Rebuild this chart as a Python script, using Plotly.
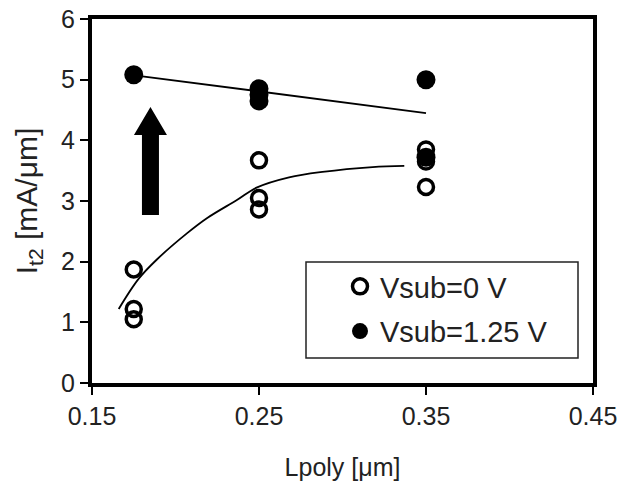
import plotly.graph_objects as go

# ---- data ----
lpoly_open = [0.175, 0.175, 0.175, 0.25, 0.25, 0.25, 0.35, 0.35, 0.35]
it2_open = [1.87, 1.22, 1.05, 3.67, 3.05, 2.86, 3.85, 3.65, 3.23]

lpoly_filled = [0.175, 0.25, 0.25, 0.25, 0.35, 0.35]
it2_filled = [5.08, 4.85, 4.75, 4.65, 5.00, 3.72]

# trend lines
trend_open_x = [0.166, 0.178, 0.189, 0.207, 0.219, 0.237, 0.2485, 0.268, 0.288, 0.318, 0.337]
trend_open_y = [1.22, 1.72, 2.04, 2.47, 2.72, 3.02, 3.22, 3.39, 3.48, 3.56, 3.58]
trend_filled_x = [0.179, 0.35]
trend_filled_y = [5.06, 4.45]

x_ticks = [0.15, 0.25, 0.35, 0.45]
y_ticks = [0, 1, 2, 3, 4, 5, 6]

FONT = "Liberation Sans, Arial, sans-serif"
W, H = 621, 489
PL, PR, PT, PB = 92, 593, 19, 383  # plot area in page pixels
ML, MR, MT, MB = PL, W - PR, PT, H - PB
PW, PH = PR - PL, PB - PT


def px_x(p):
    return (p - PL) / PW


def px_y(q):
    return (PB - q) / PH


fig = go.Figure()

fig.add_trace(go.Scatter(
    x=trend_open_x, y=trend_open_y, mode="lines", line=dict(color="black", width=1.8, shape="spline"),
    showlegend=False, hoverinfo="skip"))
fig.add_trace(go.Scatter(
    x=trend_filled_x, y=trend_filled_y, mode="lines", line=dict(color="black", width=1.8),
    showlegend=False, hoverinfo="skip"))

fig.add_trace(go.Scatter(
    x=lpoly_open, y=it2_open, mode="markers", name="Vsub=0 V", legendgroup="a",
    marker=dict(symbol="circle-open", size=15, color="black", line=dict(width=3.5, color="black"))))
fig.add_trace(go.Scatter(
    x=lpoly_filled, y=it2_filled, mode="markers", name="Vsub=1.25 V", legendgroup="b",
    marker=dict(symbol="circle", size=19, color="black")))

axis_common = dict(
    showline=True, linewidth=4, linecolor="black", mirror=True,
    ticks="outside", ticklen=8, tickwidth=1.5, tickcolor="black",
    showgrid=False, zeroline=False, automargin=False,
    tickfont=dict(family=FONT, size=25, color="#222"),
)

fig.update_xaxes(range=[0.15, 0.45], tickvals=x_ticks, ticktext=[f"{v:.2f}" for v in x_ticks],
                 title=dict(text="Lpoly [μm]", font=dict(family=FONT, size=25, color="#222"), standoff=30),
                 **axis_common)
fig.update_yaxes(range=[0, 6], tickvals=y_ticks,
                 title=dict(text="I<sub>t2</sub> [mA/μm]", font=dict(family=FONT, size=30, color="#222"), standoff=16),
                 **axis_common)

# arrow
fig.add_shape(type="path", xref="x", yref="y", xsizemode="pixel", ysizemode="pixel",
              xanchor=0.185, yanchor=2.77,
              path="M -8.5,0 L 8.5,0 L 8.5,80 L 16.5,80 L 0,108 L -16.5,80 L -8.5,80 Z",
              fillcolor="black", line=dict(width=0))

# legend frame
fig.add_shape(type="rect", xref="paper", yref="paper",
              x0=px_x(306), x1=px_x(578), y0=px_y(358), y1=px_y(262),
              line=dict(color="#222", width=1.5), fillcolor="rgba(0,0,0,0)")

fig.update_layout(
    width=W, height=H,
    margin=dict(l=ML, r=MR, t=MT, b=MB),
    paper_bgcolor="white", plot_bgcolor="white",
    showlegend=True,
    legend=dict(x=px_x(340), y=px_y(261), xanchor="left", yanchor="top",
                bgcolor="rgba(0,0,0,0)", borderwidth=0, tracegroupgap=4,
                font=dict(family=FONT, size=29, color="#222")),
)

fig.write_html(
    "out.html",
    config={"displayModeBar": False},
    post_script="document.body.style.margin='0';document.body.style.overflow='hidden';",
)
